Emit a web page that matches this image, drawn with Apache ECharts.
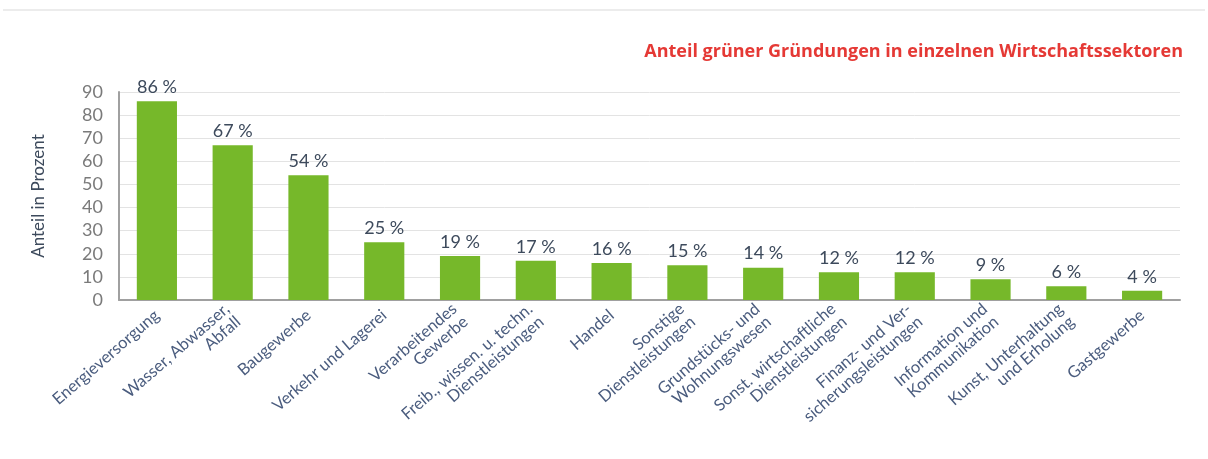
<!DOCTYPE html>
<html>
<head>
<meta charset="utf-8">
<script src="https://cdn.jsdelivr.net/npm/echarts@6/dist/echarts.min.js"></script>
<style>
  html, body { margin: 0; padding: 0; background: #fff; }
  #chart { width: 1208px; height: 459px; }
</style>
</head>
<body>
<div id="chart"></div>
<script>
const sectors = [
  'Energieversorgung',
  'Wasser, Abwasser,\nAbfall',
  'Baugewerbe',
  'Verkehr und Lagerei',
  'Verarbeitendes\nGewerbe',
  'Freib., wissen. u. techn.\nDienstleistungen',
  'Handel',
  'Sonstige\nDienstleistungen',
  'Grundstücks- und\nWohnungswesen',
  'Sonst. wirtschaftliche\nDienstleistungen',
  'Finanz- und Ver-\nsicherungsleistungen',
  'Information und\nKommunikation',
  'Kunst, Unterhaltung\nund Erholung',
  'Gastgewerbe'
];
const shares = [86, 67, 54, 25, 19, 17, 16, 15, 14, 12, 12, 9, 6, 4];

const chart = echarts.init(document.getElementById('chart'));
chart.setOption({
  animation: false,
  textStyle: { fontFamily: 'Lato, "Open Sans", sans-serif' },
  title: {
    text: 'Anteil grüner Gründungen in einzelnen Wirtschaftssektoren',
    right: 20,
    top: 38,
    textStyle: { color: '#e53935', fontSize: 18, fontWeight: 'bold', fontFamily: '"Open Sans", sans-serif' }
  },
  graphic: [{
    type: 'line',
    shape: { x1: 3, y1: 10, x2: 1205, y2: 10 },
    style: { stroke: '#e6e6e6', lineWidth: 1.5 }
  }],
  grid: { left: 119, right: 28, top: 92, bottom: 159 },
  xAxis: {
    type: 'category',
    data: sectors,
    axisLine: { lineStyle: { color: '#a0a0a0', width: 2 } },
    axisTick: { show: false },
    axisLabel: {
      interval: 0,
      rotate: 41,
      margin: 13,
      color: '#4a5c7e',
      fontSize: 16.5,
      lineHeight: 17,
      align: 'right'
    }
  },
  yAxis: {
    type: 'value',
    min: 0,
    max: 90,
    interval: 10,
    name: 'Anteil in Prozent',
    nameLocation: 'middle',
    nameGap: 72,
    nameTextStyle: { color: '#3d4a5c', fontSize: 17 },
    axisLine: { show: true, lineStyle: { color: '#a0a0a0', width: 2 } },
    axisTick: { show: false },
    axisLabel: { color: '#7a7a7a', fontSize: 18, margin: 16 },
    splitLine: { lineStyle: { color: '#e3e3e3' } }
  },
  series: [{
    type: 'bar',
    data: shares,
    barWidth: '53%',
    itemStyle: { color: '#76b82a' },
    label: {
      show: true,
      position: 'top',
      distance: 5,
      formatter: '{c} %',
      color: '#3d4a5c',
      fontSize: 18
    }
  }]
});
</script>
</body>
</html>
